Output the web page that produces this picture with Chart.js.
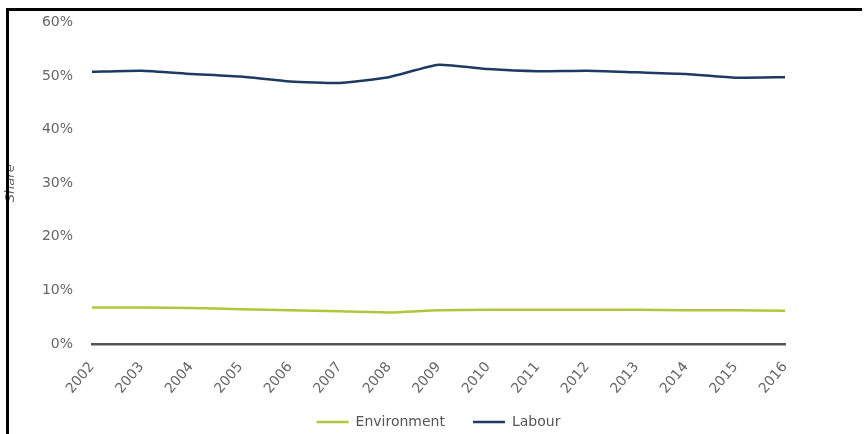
<!DOCTYPE html>
<html>
<head>
<meta charset="utf-8">
<title>Share</title>
<script src="https://cdn.jsdelivr.net/npm/chart.js@4.4.1/dist/chart.umd.min.js"></script>
<style>
    body { margin: 0; background: #fff; overflow: hidden; }
    .wrap { position: relative; width: 865px; height: 434px; }
    .frame {
        position: absolute; left: 6px; top: 8px; width: 853px; height: 440px;
        border-top: 3px solid #000; border-left: 3px solid #000;
        pointer-events: none;
    }
</style>
</head>
<body>
<div class="wrap">
    <canvas id="shareChart" width="865" height="434"></canvas>
    <div class="frame"></div>
</div>
<script>
// years on the x axis
const years = ['2002', '2003', '2004', '2005', '2006', '2007', '2008', '2009', '2010', '2011', '2012', '2013', '2014', '2015', '2016'];
// share in percent
const environmentShare = [6.8, 6.8, 6.7, 6.5, 6.3, 6.1, 5.9, 6.3, 6.4, 6.4, 6.4, 6.4, 6.3, 6.3, 6.2];
const labourShare = [50.8, 51.0, 50.4, 49.9, 49.0, 48.7, 49.8, 52.1, 51.3, 50.9, 51.0, 50.7, 50.4, 49.7, 49.8];
const shareTicks = [0, 10, 20, 30, 40, 50, 60];

document.addEventListener('DOMContentLoaded', function () {
    var font = 'DejaVu Sans';

    var chartData = {
        labels: years,
        datasets: [{
            label: 'Environment',
            data: environmentShare,
            borderColor: '#b1c63b',
            backgroundColor: '#b1c63b',
            borderWidth: 2.5,
            pointRadius: 0,
            tension: 0.15
        }, {
            label: 'Labour',
            data: labourShare,
            borderColor: '#1e3a63',
            backgroundColor: '#1e3a63',
            borderWidth: 2.5,
            pointRadius: 0,
            tension: 0.15
        }]
    };

    new Chart(document.getElementById('shareChart'), {
        type: 'line',
        data: chartData,
        options: {
            responsive: false,
            animation: false,
            layout: { padding: { top: 0, right: 80, bottom: -5, left: 0 } },
            plugins: {
                tooltip: { enabled: false },
                legend: {
                    position: 'bottom',
                    fullSize: false,
                    labels: {
                        usePointStyle: true,
                        pointStyle: 'line',
                        pointStyleWidth: 32,
                        padding: 28,
                        color: '#555',
                        font: { family: font, size: 14 }
                    }
                }
            },
            scales: {
                x: {
                    grid: { display: false, drawTicks: false },
                    border: { display: true, color: '#555', width: 2.5 },
                    ticks: {
                        color: '#666',
                        font: { family: font, size: 14 },
                        minRotation: 50,
                        maxRotation: 50,
                        padding: 15
                    },
                    afterFit: function (scale) {
                        scale.height = 43;
                        // the slanted years hang below the axis box, so don't clip them to it
                        scale._computeLabelArea = function () { return undefined; };
                    }
                },
                y: {
                    min: 0,
                    max: 60,
                    grid: { display: false, drawTicks: false },
                    border: { display: false },
                    afterBuildTicks: function (scale) {
                        scale.ticks = shareTicks.map(function (v) { return { value: v }; });
                    },
                    ticks: {
                        color: '#666',
                        padding: 19,
                        // small line height keeps the top label from pushing the plot down
                        font: { family: font, size: 14, lineHeight: 0.5 },
                        callback: function (value) { return value + '%'; }
                    },
                    title: {
                        display: true,
                        text: 'Share',
                        color: '#666',
                        padding: { top: 3, bottom: 0 },
                        font: { family: font, size: 13, style: 'italic' }
                    },
                    afterFit: function (scale) { scale.width = 92; }
                }
            }
        }
    });
});
</script>
</body>
</html>
